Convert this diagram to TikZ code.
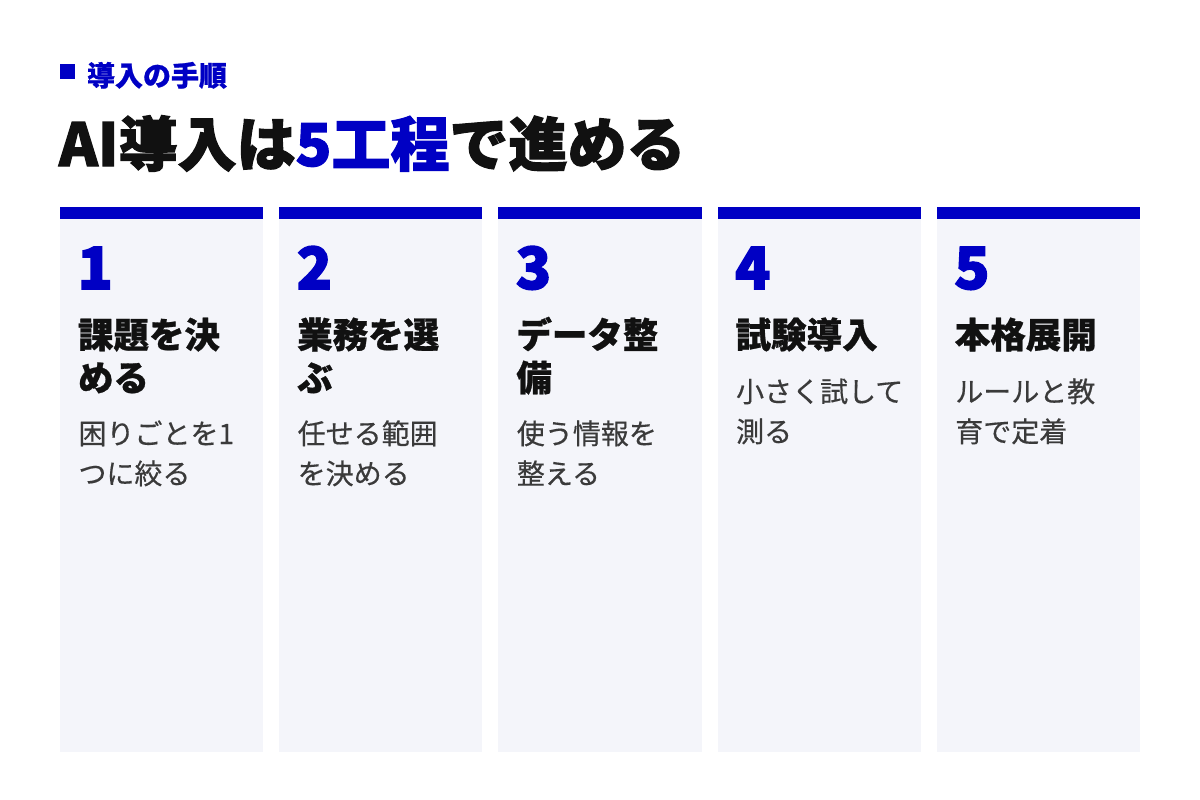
\documentclass[tikz,border=0pt]{standalone}
\usepackage{fontspec}
\setmainfont{Noto Sans CJK JP}
\newfontfamily\heavyfont[FakeBold=2]{Noto Sans CJK JP}
\newfontfamily\numfont[FakeBold=2.6]{Noto Sans CJK JP}
\newfontfamily\semifont[FakeBold=0.8]{Noto Sans CJK JP}
\newfontfamily\medfont[FakeBold=0.4]{Noto Sans CJK JP}
\definecolor{brand}{HTML}{0000C4}
\definecolor{cardbg}{HTML}{F4F5FA}
\definecolor{ink}{HTML}{111111}
\definecolor{sub}{HTML}{3A3A3A}
\tikzset{
  txt/.style={inner sep=0pt, outer sep=0pt, anchor=base west},
  lbl/.style={txt, text=brand, font=\fontsize{28}{30}\selectfont\semifont\bfseries},
  headline/.style={txt, text=ink, font=\fontsize{59}{64}\selectfont\heavyfont\bfseries},
  numtxt/.style={txt, text=brand, font=\fontsize{58}{60}\selectfont\numfont\bfseries},
  cardtitle/.style={txt, text=ink, font=\fontsize{35.5}{40}\selectfont\semifont\bfseries},
  carddesc/.style={txt, text=sub, font=\fontsize{28}{32}\selectfont\medfont},
}
\begin{document}
\begin{tikzpicture}[x=1pt,y=-1pt]
\fill[white] (0,0) rectangle (1200,800);
\useasboundingbox (0,0) rectangle (1200,800);
% header
\fill[brand] (60,64) rectangle (75,79);
\node[lbl] (label) at (87,86) {導入の手順};
\node[headline] (title) at (59,166) {AI導入は{\color{brand}5工程}で進める};
% cards
\foreach \i/\x in {1/60,2/279.2,3/498.4,4/717.6,5/936.8}{
  \fill[cardbg] (\x,219) rectangle ++(203.2,533);
  \fill[brand] (\x,207) rectangle ++(203.2,12);
  \node[numtxt] (num\i) at (\x+17.5,289) {\i};
}
% card 1
\node[cardtitle] (t1a) at (78,348) {課題を決};
\node[cardtitle] (t1b) at (78,391) {める};
\node[carddesc] (d1a) at (78.5,444) {困りごとを1};
\node[carddesc] (d1b) at (78.5,484) {つに絞る};
% card 2
\node[cardtitle] (t2a) at (297.2,348) {業務を選};
\node[cardtitle] (t2b) at (297.2,391) {ぶ};
\node[carddesc] (d2a) at (297.7,444) {任せる範囲};
\node[carddesc] (d2b) at (297.7,484) {を決める};
% card 3
\node[cardtitle] (t3a) at (516.4,348) {データ整};
\node[cardtitle] (t3b) at (516.4,391) {備};
\node[carddesc] (d3a) at (516.9,444) {使う情報を};
\node[carddesc] (d3b) at (516.9,484) {整える};
% card 4
\node[cardtitle] (t4a) at (735.6,348) {試験導入};
\node[carddesc] (d4a) at (736.1,402) {小さく試して};
\node[carddesc] (d4b) at (736.1,442) {測る};
% card 5
\node[cardtitle] (t5a) at (954.8,348) {本格展開};
\node[carddesc] (d5a) at (955.3,402) {ルールと教};
\node[carddesc] (d5b) at (955.3,442) {育で定着};
\end{tikzpicture}
\end{document}
